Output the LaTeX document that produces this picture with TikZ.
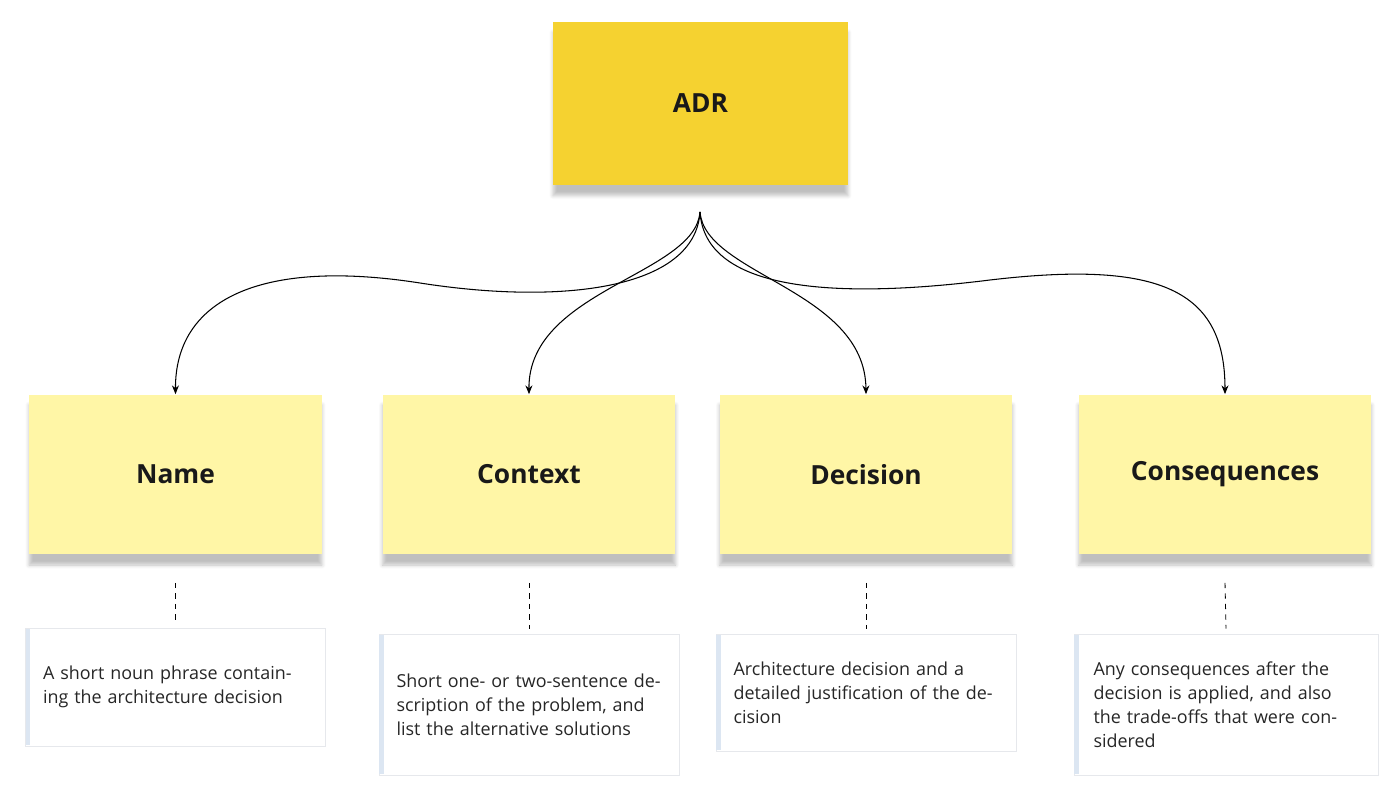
\documentclass[tikz,border=0pt]{standalone}
\usepackage{fontspec}
\setmainfont{Open Sans}
\usetikzlibrary{arrows.meta,shadows.blur}
\definecolor{adr}{HTML}{F5D230}
\definecolor{note}{HTML}{FFF6A6}
\definecolor{bord}{HTML}{E6E8EC}
\definecolor{edge}{HTML}{DCE6F2}
\begin{document}
\begin{tikzpicture}[x=0.02cm,y=-0.02cm,
  sticky/.style={draw=none,minimum width=5.86cm,minimum height=3.2cm,font=\fontsize{15}{18}\selectfont\bfseries,text=black!90,
    blur shadow={shadow xshift=0pt,shadow yshift=-6pt,shadow blur steps=6,shadow opacity=25}},
  desc/.style={draw=bord,fill=white,minimum width=6.0cm,align=left,text width=5.3cm,font=\fontsize{10.2}{13.6}\selectfont,text=black!85,inner sep=0pt},
  arr/.style={-{Stealth[length=5pt,width=4pt]},line width=0.6pt},
  dashline/.style={dashed,line width=0.5pt}]
\useasboundingbox (0,0) rectangle (1400,803);
\node[sticky,fill=adr,minimum width=5.9cm,minimum height=3.26cm] (adr) at (700.5,103.5) {ADR};
\node[sticky,fill=note] (n1) at (175.5,474.5) {Name};
\node[sticky,fill=note] (n2) at (529,474.5) {Context};
\node[sticky,fill=note] (n3) at (866,474.5) {Decision};
\node[sticky,fill=note] (n4) at (1225,474.5) {Consequences};
\coordinate (s) at (700,212);
\draw[arr] (s) .. controls (695,290) and (560,305) .. (420,283) .. controls (260,258) and (175,300) .. (n1.north);
\draw[arr] (s) .. controls (695,275) and (528,290) .. (n2.north);
\draw[arr] (s) .. controls (705,275) and (865,290) .. (n3.north);
\draw[arr] (s) .. controls (705,290) and (830,300) .. (990,280) .. controls (1160,260) and (1225,290) .. (n4.north);
\node[desc,minimum height=2.36cm] (d1) at (175.5,687) {A short noun phrase containing the architecture decision};
\node[desc,minimum height=2.82cm] (d2) at (529,704.5) {Short one- or two-sentence description of the problem, and list the alternative solutions};
\node[desc,minimum height=2.34cm] (d3) at (866,692.5) {Architecture decision and a detailed justification of the decision};
\node[desc,minimum height=2.82cm,minimum width=6.08cm] (d4) at (1226,704.5) {Any consequences after the decision is applied, and also the trade-offs that were considered};
\foreach \d in {d1,d2,d3,d4}{\draw[edge,line width=2.5pt] ([xshift=1.5pt,yshift=-1pt]\d.north west) -- ([xshift=1.5pt,yshift=1pt]\d.south west);}
\foreach \n/\d in {n1/d1,n2/d2,n3/d3,n4/d4}{\draw[dashline] ([yshift=-0.56cm]\n.south) -- ([yshift=0.1cm]\d.north);}
\end{tikzpicture}
\end{document}
